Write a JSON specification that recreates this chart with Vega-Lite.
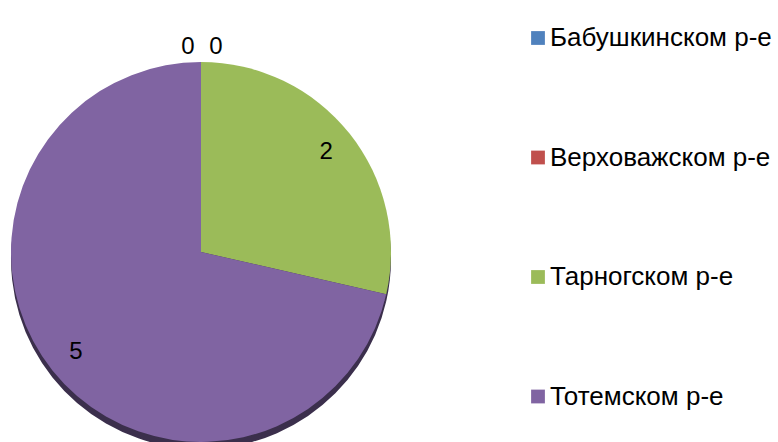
{
  "$schema": "https://vega.github.io/schema/vega-lite/v6.json",
  "width": 402,
  "height": 380,
  "autosize": {"type": "none"},
  "padding": {"left": 0, "top": 62, "right": 376, "bottom": 0},
  "background": "white",
  "config": {"view": {"stroke": null}, "font": "Liberation Sans"},
  "data": {"values": [
    {"category": "Бабушкинском р-е", "value": 0},
    {"category": "Верховажском р-е", "value": 0},
    {"category": "Тарногском р-е", "value": 2},
    {"category": "Тотемском р-е", "value": 5}
  ]},
  "layer": [
    {
      "mark": {"type": "arc", "radius": 190, "yOffset": 7, "fill": "#3b2f4c", "strokeWidth": 0},
      "encoding": {"theta": {"field": "value", "type": "quantitative", "stack": true}}
    },
    {
      "mark": {"type": "arc", "radius": 190, "strokeWidth": 0},
      "encoding": {
        "theta": {"field": "value", "type": "quantitative", "stack": true},
        "color": {
          "field": "category", "type": "nominal",
          "scale": {"domain": ["Бабушкинском р-е", "Верховажском р-е", "Тарногском р-е", "Тотемском р-е"], "range": ["#4f81bd", "#c0504d", "#9bbb59", "#8064a2"]},
          "legend": {
            "title": null, "orient": "none", "legendX": 525, "legendY": -37,
            "symbolType": "square", "symbolSize": 190, "symbolStrokeWidth": 0,
            "labelFontSize": 26, "labelFont": "Liberation Sans", "labelColor": "#000000", "labelLimit": 400,
            "rowPadding": 93.5, "labelOffset": -1
          }
        },
        "order": {"field": "category"}
      }
    },
    {
      "transform": [{"filter": "datum.value > 0"}],
      "mark": {"type": "text", "radius": 160, "fontSize": 24, "font": "Liberation Sans", "color": "#000000"},
      "encoding": {
        "theta": {"field": "value", "type": "quantitative", "stack": true},
        "text": {"field": "value", "type": "quantitative"},
        "order": {"field": "category"}
      }
    },
    {
      "transform": [{"filter": "datum.category == 'Бабушкинском р-е'"}],
      "mark": {"type": "text", "radius": 205, "dx": -13, "fontSize": 24, "font": "Liberation Sans", "color": "#000000"},
      "encoding": {
        "theta": {"field": "value", "type": "quantitative", "stack": true},
        "text": {"field": "value", "type": "quantitative"}
      }
    },
    {
      "transform": [{"filter": "datum.category == 'Верховажском р-е'"}],
      "mark": {"type": "text", "radius": 205, "dx": 15, "fontSize": 24, "font": "Liberation Sans", "color": "#000000"},
      "encoding": {
        "theta": {"field": "value", "type": "quantitative", "stack": true},
        "text": {"field": "value", "type": "quantitative"}
      }
    }
  ]
}
